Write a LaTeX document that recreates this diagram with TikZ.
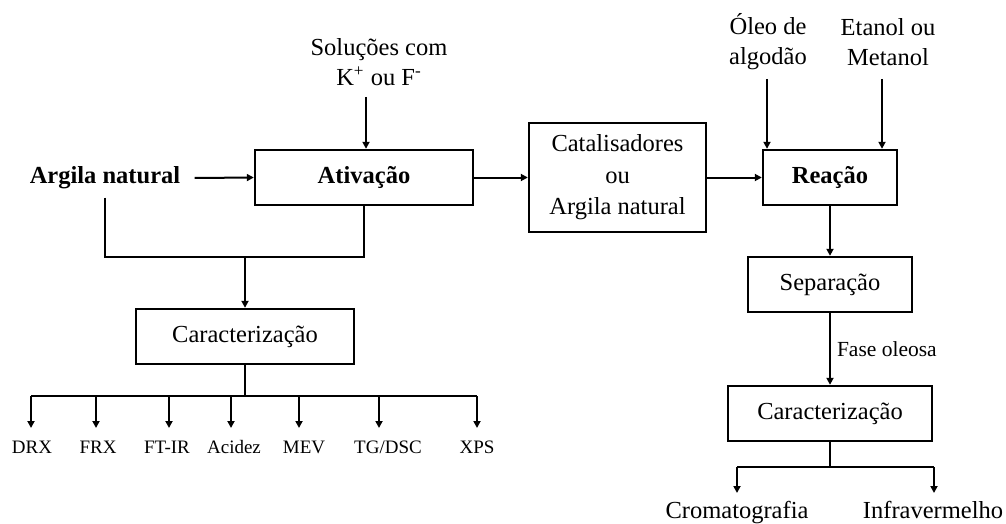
\documentclass[tikz,border=0pt]{standalone}
\usepackage{fontspec}
\setmainfont{Liberation Serif}
\usetikzlibrary{positioning,arrows.meta,calc}

\begin{document}
\begin{tikzpicture}[
    x=0.5pt, y=-0.5pt,
    font=\fontsize{12.25}{15}\selectfont,
    box/.style={draw, line width=1.2pt, minimum height=27.5pt, align=center,
                inner sep=2pt},
    lbl/.style={align=center, inner sep=1pt},
    tiny/.style={font=\fontsize{9.5}{11}\selectfont, inner sep=1pt, anchor=base},
    op/.style={-{Triangle[length=3.5pt,width=3.5pt]}, line width=1pt},
    ln/.style={line width=1pt},
  ]
  \useasboundingbox (0,0) rectangle (1006,524);
  % --- activation ---
  \node[box, minimum width=109pt] (ativ) at (364,177.5) {\textbf{Ativação}};
  \node[lbl] (argila) at (105,178) {\textbf{Argila natural}};
  \node[lbl] (sol) at (379,62)
    {Soluções com\\K\textsuperscript{+} ou F\textsuperscript{-}};
  \coordinate (solin) at (366,97);
  \draw[op] (solin) -- (solin |- ativ.north);
  \draw[op] (argila.east) ++(6pt,0) coordinate (argout) -- (ativ.west);
  % --- left characterisation ---
  \node[box, minimum width=109pt] (car1) at (245,336.5) {Caracterização};
  \coordinate (j1) at (245,257);
  \draw[ln] (argila.south) ++(0,-3pt) coordinate (argdn) |- (j1) -| (ativ.south);
  \draw[op] (j1) -- (car1.north);
  \coordinate (bus1) at (245,396);
  \draw[ln] (car1.south) -- (bus1);
  \foreach \x/\lx/\t [count=\i] in {31/32/DRX, 96/98/FRX, 169/167/FT-IR,
      231/234/Acidez, 299/304/MEV, 379/388/{TG/DSC}, 477/477/XPS} {
    \coordinate (b\i) at (\x,396);
    \node[tiny] (m\i) at (\lx,453) {\t};
    \draw[op] (b\i) -- (\x,428);
  }
  \draw[ln] (b1) -- (b7);
  % --- catalysts and reaction ---
  \node[box, minimum width=88.5pt, minimum height=54.5pt,
        font=\fontsize{12.25}{15.75}\selectfont] (cat) at (617.5,177.5)
    {Catalisadores\\ou\\Argila natural};
  \node[box, minimum width=67pt] (reac) at (830,177.5) {\textbf{Reação}};
  \draw[op] (ativ.east) -- (cat.west);
  \draw[op] (cat.east) -- (reac.west);
  \node[lbl] (oleo) at (768,42) {Óleo de\\algodão};
  \node[lbl] (etanol) at (888,42) {Etanol ou\\Metanol};
  \coordinate (olin) at (767,79);
  \coordinate (etin) at (882,79);
  \draw[op] (olin) -- (olin |- reac.north);
  \draw[op] (etin) -- (etin |- reac.north);
  % --- separation and right characterisation ---
  \node[box, minimum width=82pt] (sep) at (830,284.5) {Separação};
  \node[box, minimum width=102pt] (car2) at (830,413.5) {Caracterização};
  \draw[op] (reac.south) -- (sep.north);
  \draw[op] (sep.south) -- node[right, inner sep=3pt,
      font=\fontsize{10.75}{12}\selectfont] (fase) {Fase oleosa} (car2.north);
  \coordinate (c1) at (737,467);
  \coordinate (c2) at (934,467);
  \draw[ln] (car2.south) -- (car2.south |- c1);
  \draw[ln] (c1) -- (c2);
  \node[lbl, anchor=base] (crom) at (737,518) {Cromatografia};
  \node[lbl, anchor=base] (infra) at (933,518) {Infravermelho};
  \draw[op] (c1) -- (737,493);
  \draw[op] (c2) -- (934,493);
\end{tikzpicture}
\end{document}
